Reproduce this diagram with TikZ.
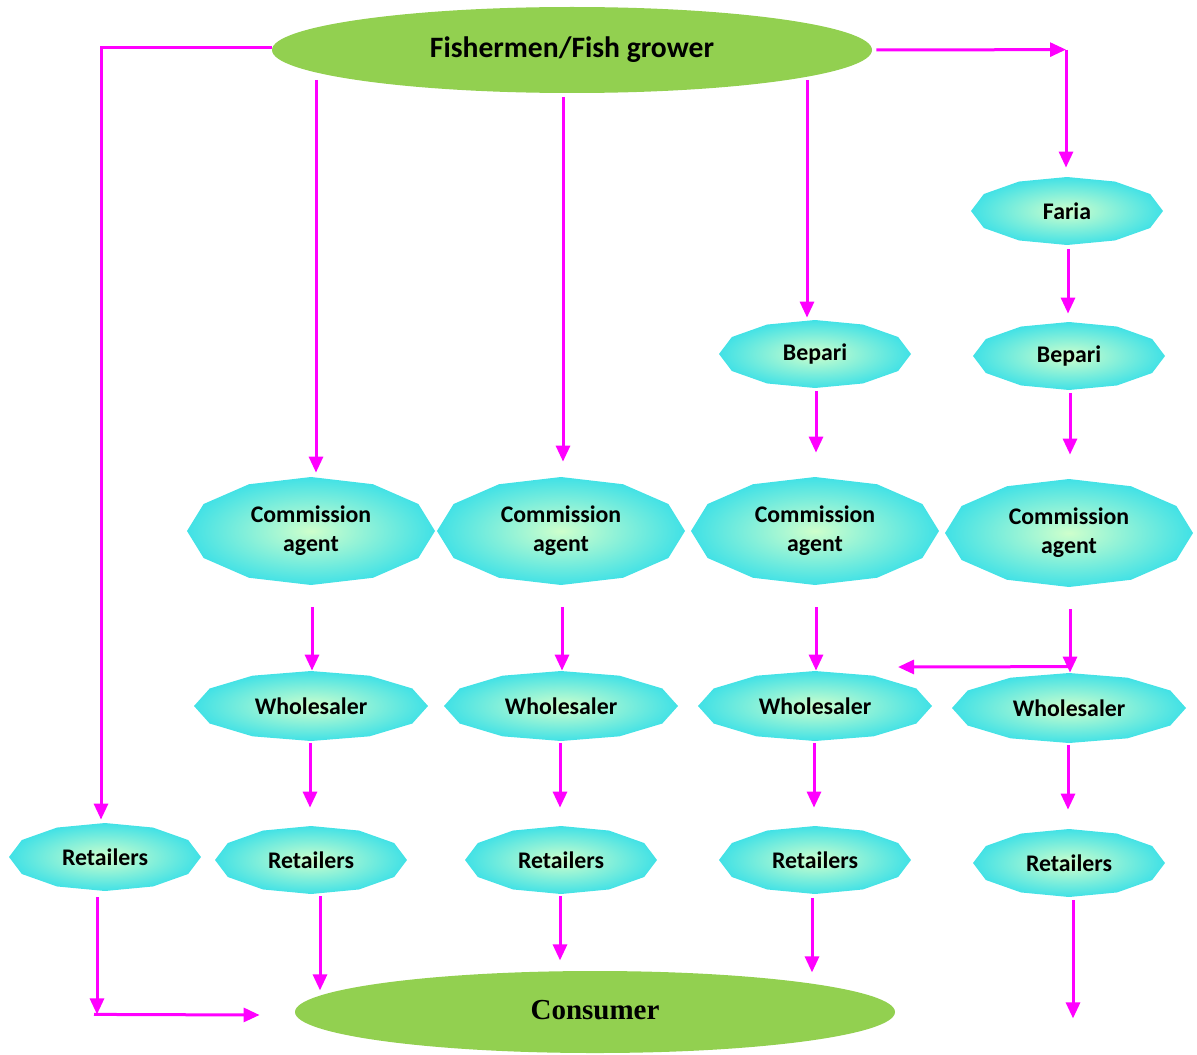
\documentclass[tikz,border=0pt]{standalone}
\usepackage{fontspec}
\setmainfont{Carlito}
\newfontfamily\serifbold{Liberation Serif}
\usetikzlibrary{arrows.meta,calc,shapes.geometric}
\definecolor{flow}{HTML}{FF00FF}
\definecolor{leaf}{HTML}{92D050}
\definecolor{polyin}{RGB}{206,255,204}
\definecolor{polyout}{RGB}{64,225,230}
\newcommand{\polynode}[6]{%
  \shade[polyshade] plot[samples=13,domain=0:360,variable=\t] ({#2+#4*cos(\t)},{#3+#5*sin(\t)}) -- cycle;
  \node[boxtext, minimum width=#4pt, minimum height=#5pt] (#1) at (#2,#3) {#6};
}
\begin{document}
\begin{tikzpicture}[x=0.5pt,y=-0.5pt,
  polyshade/.style={inner color=polyin, outer color=polyout},
  boxtext/.style={ellipse, inner sep=0pt, align=center, font=\bfseries\fontsize{11.9}{14.5}\selectfont},
  greenell/.style={ellipse, fill=leaf, inner sep=0pt},
  arr/.style={draw=flow, line width=1.5pt, -{Triangle[length=8pt,width=7pt]}},
  ln/.style={draw=flow, line width=1.5pt}]
\useasboundingbox (0,0) rectangle (1197,1054);

% top and bottom ellipses
\node[greenell, minimum width=300pt, minimum height=43pt, font=\bfseries\fontsize{14.8}{17}\selectfont] (top) at (572,50) {Fishermen/Fish grower};
\node[greenell, minimum width=300pt, minimum height=41pt, font=\serifbold\bfseries\fontsize{14.5}{17}\selectfont] (cons) at (595,1012) {\raisebox{2pt}{Consumer}};

% polygon nodes
\polynode{faria}{1067}{211}{96}{34}{Faria}
\polynode{bep1}{815}{354}{96}{34}{Bepari}
\polynode{bep2}{1069}{356}{96}{34}{Bepari}
\polynode{ca1}{311}{531}{124}{54}{Commission\\agent}
\polynode{ca2}{561}{531}{124}{54}{Commission\\agent}
\polynode{ca3}{815}{531}{124}{54}{Commission\\agent}
\polynode{ca4}{1069}{533}{124}{54}{Commission\\agent}
\polynode{w1}{311}{706}{117}{35}{Wholesaler}
\polynode{w2}{561}{706}{117}{35}{Wholesaler}
\polynode{w3}{815}{706}{117}{35}{Wholesaler}
\polynode{w4}{1069}{708}{117}{35}{Wholesaler}
\polynode{r0}{105}{857}{96}{34}{Retailers}
\polynode{r1}{311}{860}{96}{34}{Retailers}
\polynode{r2}{561}{860}{96}{34}{Retailers}
\polynode{r3}{815}{860}{96}{34}{Retailers}
\polynode{r4}{1069}{863}{96}{34}{Retailers}

% connectors from the top
\draw[arr] ($(top.west)+(0,-2)$) -| ($(r0.north)+(-4,-3)$);
\draw[arr] ($(top)+(-256,30)$) -- ($(ca1.north)+(5,-4)$);
\draw[arr] ($(top)+(-9,47)$) -- ($(ca2.north)+(2,-15)$);
\draw[arr] ($(top)+(235,30)$) -- ($(bep1.north)+(-8,-2)$);
\coordinate (corner) at ($(faria.north)+(-1,-127)$);
\draw[arr] ($(top.east)+(4,0)$) -- (corner);
\draw[arr] (corner) -- ($(faria.north)+(-1,-9)$);

% Faria / Bepari chain
\draw[arr] ($(faria.south)+(1,4)$) -- ($(bep2.north)+(-1,-8)$);
\draw[arr] ($(bep1.south)+(1,3)$) -- ($(ca3.north)+(1,-24)$);
\draw[arr] ($(bep2.south)+(1,3)$) -- ($(ca4.north)+(1,-24)$);

% commission agents to wholesalers
\draw[arr] ($(ca1.south)+(1,22)$) -- ($(w1.north)+(1,0)$);
\draw[arr] ($(ca2.south)+(1,22)$) -- ($(w2.north)+(1,0)$);
\draw[arr] ($(ca3.south)+(1,22)$) -- ($(w3.north)+(1,0)$);
\draw[arr] ($(ca4.south)+(1,22)$) -- ($(w4.north)+(1,0)$);
\draw[arr] ($(w4.north)+(1,-6)$) -- ($(w3)+(83,-39)$);

% wholesalers to retailers
\draw[arr] ($(w1.south)+(-1,2)$) -- ($(r1.north)+(-1,-18)$);
\draw[arr] ($(w2.south)+(-1,2)$) -- ($(r2.north)+(-1,-18)$);
\draw[arr] ($(w3.south)+(-1,2)$) -- ($(r3.north)+(-1,-18)$);
\draw[arr] ($(w4.south)+(-1,2)$) -- ($(r4.north)+(-1,-19)$);

% retailers to consumer
\coordinate (bl) at ($(r0.south)+(-8,123)$);
\draw[arr] ($(r0.south)+(-8,6)$) -- (bl);
\draw[arr] ($(bl)+(-3,0)$) -- ($(cons.west)+(-35,3)$);
\draw[arr] ($(r1.south)+(9,2)$) -- ($(r1.south)+(9,96)$);
\draw[arr] ($(r2.south)+(-1,2)$) -- ($(r2.south)+(-1,66)$);
\draw[arr] ($(r3.south)+(-3,4)$) -- ($(r3.south)+(-3,78)$);
\draw[arr] ($(r4.south)+(4,3)$) -- ($(r4.south)+(4,121)$);
\end{tikzpicture}
\end{document}
